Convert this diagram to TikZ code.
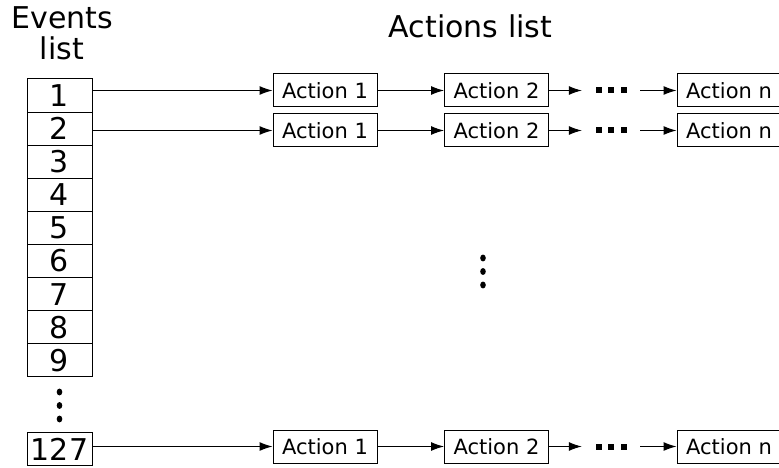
\documentclass[tikz,border=0pt]{standalone}
\usepackage{fontspec}
\setmainfont{DejaVu Sans}
\usetikzlibrary{arrows.meta}

\begin{document}
\begin{tikzpicture}[
        x=1pt, y=-1pt,
        event/.style={rectangle, draw, line width=1pt, minimum width=65pt, minimum height=33.1pt, inner sep=0pt, font=\fontsize{30}{30}\selectfont},
        action/.style={rectangle, draw, line width=1pt, minimum width=104pt, minimum height=33pt, inner sep=0pt, font=\fontsize{21}{21}\selectfont},
        title/.style={anchor=base, inner sep=0pt, font=\fontsize{30}{30}\selectfont},
        gap/.style={minimum width=58pt, minimum height=10pt, inner sep=0pt},
        link/.style={draw, line width=1pt, -{Latex[length=13pt,width=9pt]}}
    ]
 \useasboundingbox (0,0) rectangle (779,468);
 \node[title] (evt) at (62.5,29) {Events};
 \node[title] (evl) at (62,60) {list};
 \node[title] (act) at (470.5,38) {Actions list};
 \foreach \i in {1,...,9}
     \node[event] (e\i) at (59.5,{79+33.1*(\i-0.5)}) {\i};
 \node[event, minimum height=33pt] (e127) at (59.5,449) {127};
 \foreach \y in {392,405.5,419}
     \fill (59.5,\y) circle[x radius=2.8, y radius=3.4];
 \foreach \y in {258,271.5,285}
     \fill (483,\y) circle[x radius=2.8, y radius=3.4];
 \foreach \r/\y in {1/90.5, 2/130.5, 127/446.5} {
     \node[action] (a\r-1) at (325,\y) {Action 1};
     \node[action] (a\r-2) at (496.5,\y) {Action 2};
     \node[gap] (d\r) at (611,\y) {};
     \node[action] (a\r-n) at (729,\y) {Action n};
     \draw[link] (a\r-1.west -| e\r.east) -- (a\r-1.west);
     \draw[link] (a\r-1) -- (a\r-2);
     \draw[link] (a\r-2) -- (d\r);
     \draw[link] (d\r) -- (a\r-n);
     \foreach \dx in {-12.5,0,12.5}
         \fill ([xshift=\dx pt]d\r.center) +(-3,-3) rectangle +(3,3);
 }
\end{tikzpicture}
\end{document}
